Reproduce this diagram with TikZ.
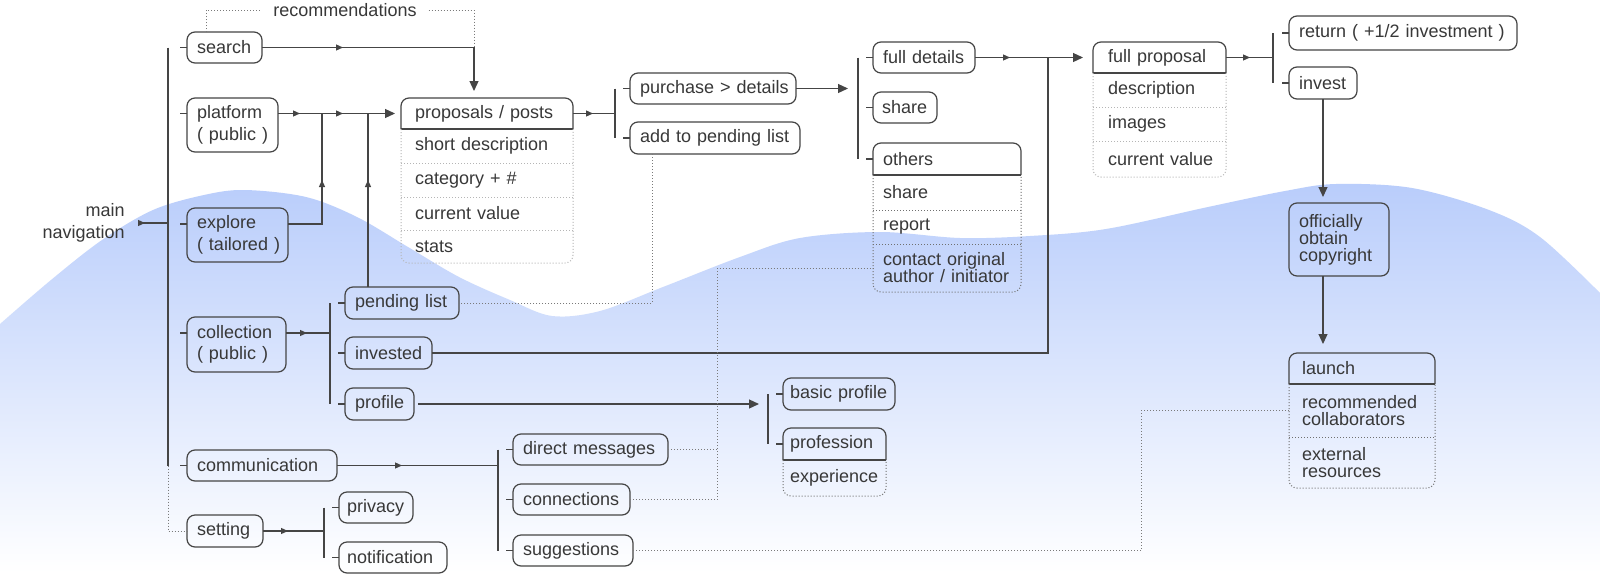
\documentclass[tikz,border=0pt]{standalone}
\usepackage{fontspec}
\setmainfont{Liberation Sans}
\usetikzlibrary{arrows.meta,decorations.markings,calc}
\definecolor{ink}{HTML}{383838}
\definecolor{lnk}{HTML}{454545}
\definecolor{dotc}{HTML}{7A7A7A}
\definecolor{rowc}{HTML}{B5B5B5}
\definecolor{rowd}{HTML}{707070}
\definecolor{wave}{RGB}{185,205,251}
\definecolor{wavemid}{RGB}{231,238,254}
\newcommand{\mytab}[3]{%
 \draw[hdl, rounded corners=8pt] (#1.south west) -- (#1.north west) -- (#1.north east) -- (#1.south east);
 \draw[hdl] (#1.south west) -- (#1.south east);
 \draw[#3, rounded corners=8pt] (#1.south west) -- (#2.south west) -- (#2.south east) -- (#1.south east);}
\begin{document}
\begin{tikzpicture}[x=1pt,y=-1pt, outer sep=0pt,
 txt/.style={font=\fontsize{18}{21.5}\selectfont, text=ink},
 bx/.style={txt, draw=lnk, line width=1.2pt, rounded corners=8pt, anchor=north west, align=left, inner xsep=10pt, inner ysep=2pt},
 hd/.style={txt, anchor=north west, align=left, inner xsep=10pt, inner ysep=2pt},
 rw/.style={txt, font=\fontsize{18}{17}\selectfont, anchor=north west, align=left, inner xsep=10pt, inner ysep=2pt},
 conn/.style={draw=lnk, line width=1.2pt},
 brk/.style={draw=lnk, line width=1.5pt},
 tick/.style={draw=lnk, line width=1.2pt},
 endarr/.style={-{Triangle[length=10pt,width=9pt]}},
 marr/.style={postaction={decorate, decoration={markings, mark=at position #1 with {\arrow{Triangle[length=7pt,width=6pt]}}}}},
 dotl/.style={draw=dotc, line width=1pt, dash pattern=on 1pt off 2pt},
 rowl/.style={draw=rowc, line width=1pt, dash pattern=on 1pt off 2pt},
 rowk/.style={draw=rowd, line width=1pt, dash pattern=on 1pt off 2pt},
 hdl/.style={draw=lnk, line width=1.2pt},
]
\useasboundingbox (0,0) rectangle (1600,573);
\fill[white] (0,0) rectangle (1600,573);
% background wave
\shade[top color=wave, middle color=wavemid, bottom color=white] plot[smooth, tension=0.55] coordinates {(0,324) (51,280) (102,240) (153,210) (204,195) (245,190) (306,197) (357,217) (408,247) (459,277) (510,300) (552,316) (600,311) (663,287) (740,257) (800,238) (880,232) (960,238) (1030,236) (1106,229) (1208,207) (1285,191) (1336,184) (1412,188) (1489,210) (1540,237) (1600,293)} -- (1600,573) -- (0,573) -- cycle;

% ---------- nodes ----------
\node[txt, align=right, anchor=east] (mainnav) at (128,223) {main\\navigation};
\node[bx, text width=55pt, minimum height=31pt] (search) at (187,32) {\mbox{search}};
\node[bx, text width=71pt, minimum height=54pt] (platform) at (187,98) {\mbox{platform}\\\mbox{( public )}};
\node[bx, text width=81pt, minimum height=54pt] (explore) at (187,208) {\mbox{explore}\\\mbox{( tailored )}};
\node[bx, text width=79pt, minimum height=55pt] (collection) at (187,317) {\mbox{collection}\\\mbox{( public )}};
\node[bx, text width=130pt, minimum height=31pt] (comm) at (187,450) {\mbox{communication}};
\node[bx, text width=56pt, minimum height=32pt] (setting) at (187,515) {\mbox{setting}};
\node[bx, inner xsep=8pt, text width=58pt, minimum height=31pt] (privacy) at (339,492) {\mbox{privacy}};
\node[bx, inner xsep=8pt, text width=92pt, minimum height=31pt] (notif) at (339,542) {\mbox{notification}};
\node[bx, text width=94pt, minimum height=32pt] (pending) at (345,287) {\mbox{pending list}};
\node[bx, text width=67pt, minimum height=32pt] (invested) at (345,337) {\mbox{invested}};
\node[bx, text width=49pt, minimum height=32pt] (profile) at (345,388) {\mbox{profile}};
\node[bx, text width=135pt, minimum height=31pt] (dm) at (513,434) {\mbox{direct messages}};
\node[bx, text width=97pt, minimum height=31pt] (conn) at (513,484) {\mbox{connections}};
\node[bx, text width=100pt, minimum height=31pt] (sugg) at (513,535) {\mbox{suggestions}};
\node[bx, inner xsep=7pt, text width=98pt, minimum height=32pt] (basic) at (783,378) {\mbox{basic profile}};
\node[hd, inner xsep=7pt, text width=89pt, minimum height=32pt] (profession) at (783,428) {\mbox{profession}};
\node[rw, inner xsep=7pt, text width=89pt, minimum height=36pt] (exper) at (783,460) {\mbox{experience}};
\node[bx, text width=146pt, minimum height=31pt] (purch) at (630,73) {\mbox{purchase > details}};
\node[bx, text width=150pt, minimum height=32pt] (addp) at (630,122) {\mbox{add to pending list}};
\node[txt, inner xsep=12pt] (recs) at (345,10) {recommendations};
% proposals table
\node[hd, inner xsep=14pt, text width=144pt, minimum height=31pt] (prop) at (401,98) {\mbox{proposals / posts}};
\node[rw, inner xsep=14pt, text width=144pt, minimum height=34pt] (prop1) at (401,129) {\mbox{short description}};
\node[rw, inner xsep=14pt, text width=144pt, minimum height=34pt] (prop2) at (401,163) {\mbox{category + \#}};
\node[rw, inner xsep=14pt, text width=144pt, minimum height=33pt] (prop3) at (401,197) {\mbox{current value}};
\node[rw, inner xsep=14pt, text width=144pt, minimum height=33pt] (prop4) at (401,230) {\mbox{stats}};
% details column
\node[bx, text width=82pt, minimum height=31pt] (fd) at (873,42) {\mbox{full details}};
\node[bx, inner xsep=9pt, text width=46pt, minimum height=31pt] (share) at (873,92) {\mbox{share}};
\node[hd, text width=128pt, minimum height=32pt] (others) at (873,143) {\mbox{others}};
\node[rw, text width=128pt, minimum height=35pt] (oth1) at (873,175) {\mbox{share}};
\node[rw, text width=128pt, minimum height=34pt] (oth2) at (873,210) {\mbox{report}};
\node[rw, text width=128pt, minimum height=48pt] (contact) at (873,244) {\mbox{contact original}\\\mbox{author / initiator}};
% full proposal table
\node[hd, inner xsep=15pt, text width=103pt, minimum height=31pt] (fprop) at (1093,42) {\mbox{full proposal}};
\node[rw, inner xsep=15pt, text width=103pt, minimum height=34pt] (fp1) at (1093,73) {\mbox{description}};
\node[rw, inner xsep=15pt, text width=103pt, minimum height=34pt] (fp2) at (1093,107) {\mbox{images}};
\node[rw, inner xsep=15pt, text width=103pt, minimum height=36pt] (fp3) at (1093,141) {\mbox{current value}};
% right column
\node[bx, text width=208pt, minimum height=34pt] (ret) at (1289,16) {\mbox{return ( +1/2 investment )}};
\node[bx, text width=48pt, minimum height=32pt] (invest) at (1289,67) {\mbox{invest}};
\node[bx, font=\fontsize{18}{17}\selectfont, text width=80pt, minimum height=73pt] (off) at (1289,203) {\mbox{officially}\\\mbox{obtain}\\\mbox{copyright}};
\node[hd, inner xsep=13pt, text width=120pt, minimum height=31pt] (launch) at (1289,353) {\mbox{launch}};
\node[rw, inner xsep=13pt, text width=120pt, minimum height=53pt] (recrow) at (1289,384) {\mbox{recommended}\\\mbox{collaborators}};
\node[rw, inner xsep=13pt, text width=120pt, minimum height=51pt] (extrow) at (1289,437) {\mbox{external}\\\mbox{resources}};

% ---------- table outlines ----------
\mytab{prop}{prop4}{rowl}
\foreach \r in {prop1,prop2,prop3} \draw[rowl] (\r.south west) -- (\r.south east);
\mytab{others}{contact}{rowk}
\foreach \r in {oth1,oth2} \draw[rowk] (\r.south west) -- (\r.south east);
\mytab{fprop}{fp3}{rowl}
\foreach \r in {fp1,fp2} \draw[rowl] (\r.south west) -- (\r.south east);
\mytab{launch}{extrow}{rowk}
\draw[rowk] (recrow.south west) -- (recrow.south east);
\mytab{profession}{exper}{rowk}

% ---------- bracket coordinates ----------
\coordinate (bMain) at ([xshift=-19pt]search.west);
\coordinate (bProp) at ([xshift=-15pt]purch.west);
\coordinate (bDet) at ([xshift=-15pt]fd.west);
\coordinate (bRet) at ([xshift=-16pt]ret.west);
\coordinate (bCol) at ([xshift=-15pt]pending.west);
\coordinate (bSet) at ([xshift=-15pt]privacy.west);
\coordinate (bCom) at ([xshift=-15pt]dm.west);
\coordinate (bPro) at ([xshift=-15pt]basic.west);
\coordinate (plA) at ([yshift=-15.5pt]platform.north west);
\coordinate (exA) at ([yshift=-16pt]explore.north west);
\coordinate (coA) at ([yshift=-16pt]collection.north west);
\coordinate (plB) at ([yshift=-15.5pt]platform.north east);
\coordinate (exB) at ([yshift=-16pt]explore.north east);
\coordinate (coB) at ([yshift=-16pt]collection.north east);

% brackets
\draw[brk] (bMain) -- (bMain |- comm.west);
\draw[dotl] (bMain |- comm.west) |- (setting.west);
\draw[brk] (bProp |- purch.west) -- (bProp |- addp.west);
\draw[brk] (bDet) -- (bDet |- others.west);
\draw[brk] (bRet) -- (bRet |- invest.west);
\draw[brk] (bCol) -- (bCol |- profile.west);
\draw[brk] (bSet) -- (bSet |- notif.west);
\draw[brk] (bCom) -- (bCom |- sugg.west);
\draw[brk] (bPro) -- (bPro |- profession.west);

% ticks
\foreach \n in {search,comm,pending,invested,profile,privacy,notif,dm,conn,sugg,purch,addp,fd,share,others,ret,invest,basic,profession}
  \draw[tick] (\n.west) -- ++(-7,0);
\foreach \n in {plA,exA,coA}
  \draw[tick] (\n) -- ++(-7,0);

% ---------- connectors ----------
\coordinate (mnA) at ([xshift=12pt]mainnav.east);
\draw[conn, marr=5pt] (mnA) -- (bMain |- mnA);

\coordinate (sj) at (474,0);
\draw[conn, endarr, shorten >=7pt, marr=81pt] (search.east) -| (sj |- prop.north);
\draw[dotl] ([xshift=19pt]search.north west) |- (recs.west);
\draw[dotl] (recs.east) -| (sj |- search.east);

\draw[conn, endarr, shorten >=6pt, marr=22pt, marr=65pt] (platform.east |- prop.west) -- (prop.west);
\coordinate (j1) at (322,0);
\draw[conn, marr=78pt] (exB) -| (j1 |- prop.west);
\coordinate (j2) at (368,0);
\draw[conn, marr=107pt] (j2 |- pending.north) -- (j2 |- prop.west);

\draw[conn, marr=20pt] (prop.east) -- (bProp |- prop.east);
\draw[conn, endarr, shorten >=10pt] (purch.east) -- (bDet |- purch.east);
\coordinate (j5) at (652,0);
\draw[dotl] (j5 |- addp.south) |- (pending.east);

\draw[conn, endarr, shorten >=10pt, marr=35pt] (fd.east) -- (fprop.west);
\coordinate (j3) at (1048,0);
\draw[conn] (invested.east) -| (j3 |- fd.east);

\draw[conn, marr=24pt] (fprop.east) -- (bRet |- fprop.east);
\draw[conn, endarr, shorten >=6pt] (invest.south) -- (invest.south |- off.north);
\draw[conn, endarr, shorten >=9pt] (invest.south |- off.south) -- (invest.south |- launch.north);

\draw[conn, marr=21pt] (coB) -- (bCol |- coB);
\draw[conn, endarr, shorten >=9pt] ([xshift=4pt]profile.east) -- (bPro |- profile.east);
\draw[conn, marr=65pt] (comm.east) -- (bCom |- comm.east);
\draw[conn, marr=25pt] (setting.east) -- (bSet |- setting.east);

\coordinate (j6) at (717,0);
\draw[dotl] (dm.east) -- (j6 |- dm.east);
\draw[dotl] (conn.east) -| (j6 |- contact.west) -- (contact.west);
\coordinate (j7) at (1141,0);
\draw[dotl] (sugg.east) -| (j7 |- recrow.west) -- (recrow.west);
\end{tikzpicture}
\end{document}
